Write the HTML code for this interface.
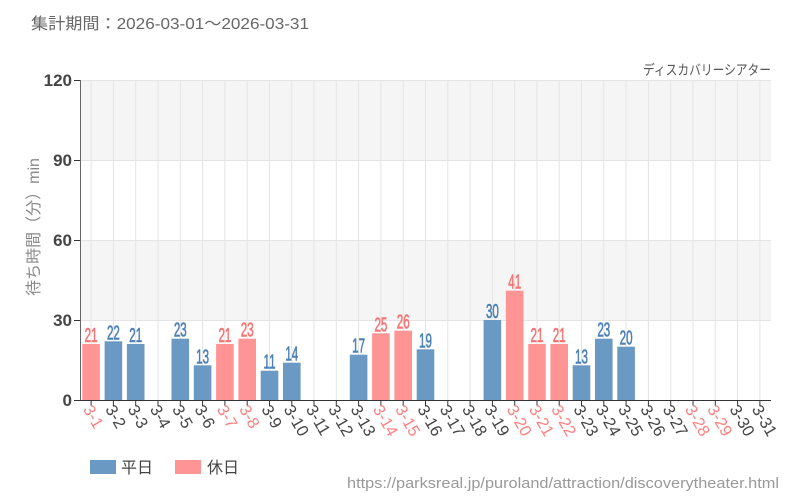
<!DOCTYPE html>
<html><head><meta charset="utf-8"><style>
html,body{margin:0;padding:0;background:#fff;}
svg{display:block;font-family:"Liberation Sans","Noto Sans CJK JP",sans-serif;}
</style></head><body>
<svg width="800" height="500" viewBox="0 0 800 500" xmlns="http://www.w3.org/2000/svg">
<text x="31" y="29" font-size="16" fill="#666" textLength="278" lengthAdjust="spacingAndGlyphs">集計期間：2026-03-01～2026-03-31</text>
<text x="771" y="75" font-size="14" fill="#555" text-anchor="end" textLength="128" lengthAdjust="spacingAndGlyphs">ディスカバリーシアター</text>
<!-- bands -->
<rect x="80" y="80" width="691" height="80" fill="#f5f5f5"/>
<rect x="80" y="240" width="691" height="80" fill="#f5f5f5"/>
<g stroke="#e4e4e4" stroke-width="1">
<line x1="80" y1="80.5" x2="771" y2="80.5"/>
<line x1="80" y1="160.5" x2="771" y2="160.5"/>
<line x1="80" y1="240.5" x2="771" y2="240.5"/>
<line x1="80" y1="320.5" x2="771" y2="320.5"/>
<g id="vg"></g>
</g>
<g id="bars"></g>
<g id="xl"></g>
<line x1="80.5" y1="80" x2="80.5" y2="400" stroke="#666" stroke-width="1"/>
<line x1="80" y1="400.5" x2="771" y2="400.5" stroke="#333" stroke-width="1"/>
<g stroke="#333"><line x1="74" y1="80.5" x2="80" y2="80.5"/><line x1="74" y1="160.5" x2="80" y2="160.5"/><line x1="74" y1="240.5" x2="80" y2="240.5"/><line x1="74" y1="320.5" x2="80" y2="320.5"/><line x1="74" y1="400.5" x2="80" y2="400.5"/></g>
<g font-size="17" fill="#444" text-anchor="end" font-weight="bold">
<text x="72" y="86">120</text><text x="72" y="166">90</text><text x="72" y="246">60</text><text x="72" y="326">30</text><text x="72" y="406">0</text>
</g>
<text transform="translate(39,227) rotate(-90)" font-size="16" fill="#888" text-anchor="middle">待ち時間（分）min</text>
<rect x="90" y="460" width="26" height="14" fill="#6a9ac4"/>
<text x="121" y="473" font-size="16" fill="#444">平日</text>
<rect x="175" y="460" width="26" height="14" fill="#ff9494"/>
<text x="207" y="473" font-size="16" fill="#444">休日</text>
<text x="347" y="488" font-size="15" fill="#999" textLength="432" lengthAdjust="spacingAndGlyphs">https://parksreal.jp/puroland/attraction/discoverytheater.html</text>
<script>
var data=[21,22,21,null,23,13,21,23,11,14,null,null,17,25,26,19,null,null,30,41,21,21,13,23,20,null,null,null,null,null,null];
var hol=[1,7,8,14,15,20,21,22,28,29];
var ns="http://www.w3.org/2000/svg";
var vg=document.getElementById('vg'),bars=document.getElementById('bars'),xl=document.getElementById('xl');
var w=691/31;
for(var i=0;i<31;i++){
 var cx=80+w*(i+0.5);var d=i+1;var h=hol.indexOf(d)>=0;
 var l=document.createElementNS(ns,'line');l.setAttribute('x1',cx.toFixed(1));l.setAttribute('x2',cx.toFixed(1));l.setAttribute('y1',80);l.setAttribute('y2',400);vg.appendChild(l);
 var t=document.createElementNS(ns,'line');t.setAttribute('x1',cx.toFixed(1));t.setAttribute('x2',cx.toFixed(1));t.setAttribute('y1',400);t.setAttribute('y2',406);t.setAttribute('stroke','#333');xl.appendChild(t);
 var tx=document.createElementNS(ns,'text');tx.textContent='3-'+d;tx.setAttribute('font-size','16.5');tx.setAttribute('fill',h?'#ff8080':'#444');
 tx.setAttribute('transform','translate('+(cx-8.5).toFixed(1)+',409) rotate(60)');xl.appendChild(tx);
 var v=data[i];if(v==null)continue;
 var bh=v*320/120;
 var r=document.createElementNS(ns,'rect');r.setAttribute('x',(cx-8.8).toFixed(1));r.setAttribute('width','17.6');r.setAttribute('y',(400-bh).toFixed(1));r.setAttribute('height',bh.toFixed(1));r.setAttribute('fill',h?'#ff9494':'#6a9ac4');bars.appendChild(r);
 var c=h?'#f87272':'#4a80b4';
 var lb=document.createElementNS(ns,'text');lb.textContent=v;lb.setAttribute('font-size','20');lb.setAttribute('fill',c);lb.setAttribute('stroke',c);lb.setAttribute('stroke-width','0.6');lb.setAttribute('text-anchor','middle');
 lb.setAttribute('transform','translate('+cx.toFixed(1)+','+(400-bh-2).toFixed(1)+') scale(0.58,1)');bars.appendChild(lb);
}
</script>
</svg>
</body></html>
